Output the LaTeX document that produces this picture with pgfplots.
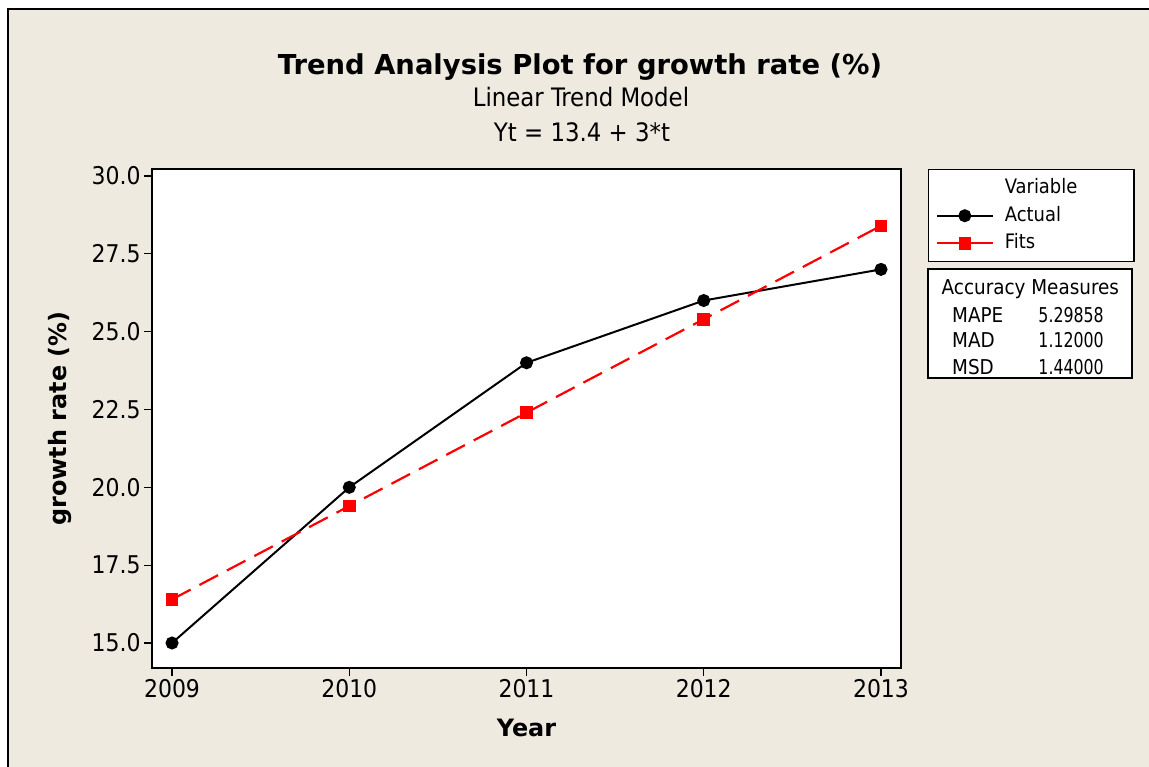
\documentclass[border=0pt]{standalone}
\usepackage{fontspec}
\setmainfont{DejaVu Sans Condensed}
\newfontfamily\widefont{DejaVu Sans}
\usepackage{graphicx}
\usepackage{pgfplots}
\pgfplotsset{compat=1.18}

\definecolor{mtbg}{RGB}{238,234,224}
\definecolor{mtred}{RGB}{255,0,0}

\begin{document}
\begin{tikzpicture}[x=1bp,y=1bp]
\useasboundingbox (0,0) rectangle (1149,767);
\fill[white] (0,0) rectangle (1149,767);
\fill[mtbg] (8,0) rectangle (1149,758);
\draw[line width=1.5bp] (8,0) -- (8,758) -- (1149,758);

% titles
\node[anchor=base, font=\widefont\bfseries\fontsize{27.5}{32}\selectfont] at (580,692) {Trend Analysis Plot for growth rate (\%)};
\node[anchor=base, font=\fontsize{25.5}{30}\selectfont] at (581,660) {Linear Trend Model};
\node[anchor=base, font=\fontsize{25.5}{30}\selectfont] at (582,625) {Yt = 13.4 + 3*t};

\begin{axis}[
  at={(152bp,99bp)}, anchor=south west,
  scale only axis, width=749bp, height=499bp,
  xmin=2008.887, xmax=2013.113, ymin=14.197, ymax=30.225,
  xtick={2009,2010,2011,2012,2013},
  ytick={15,17.5,20,22.5,25,27.5,30},
  xtick pos=lower, ytick pos=left,
  tick align=outside, major tick length=8bp,
  /pgf/number format/assume math mode=true,
  x tick label style={/pgf/number format/.cd, 1000 sep={}},
  y tick label style={/pgf/number format/.cd, fixed, fixed zerofill, precision=1},
  tick label style={font=\fontsize{24.5}{28}\selectfont},
  axis line style={line width=1.6bp},
  tick style={line width=1.3bp, black},
  axis background/.style={fill=white},
  xlabel={Year}, ylabel={growth rate (\%)},
  every axis x label/.style={at={(axis description cs:0.5,-0.1202)}, anchor=center, font=\widefont\bfseries\fontsize{24}{28}\selectfont},
  every axis y label/.style={at={(axis description cs:-0.1228,0.5)}, rotate=90, anchor=center, font=\widefont\bfseries\fontsize{24}{28}\selectfont},
  legend cell align=left,
  legend image code/.code={\draw[mark repeat=2, mark phase=2, #1, solid] plot coordinates {(0bp,0bp) (28bp,0bp) (56bp,0bp)};},
  legend style={at={(axis description cs:1.036,1)}, anchor=north west,
    draw=black, line width=1.5bp, fill=white,
    font=\fontsize{20}{24}\selectfont,
    inner xsep=7bp, inner ysep=6bp, row sep=2.5bp,
    nodes={inner sep=2bp, text height=16bp, text depth=5bp},
    /tikz/every odd column/.style={column sep=9bp}},
]
\addlegendimage{empty legend}
\addlegendentry{\makebox[120bp][l]{Variable}}
\addplot[black, line width=2bp, mark=*, mark size=5.5bp] coordinates {
  (2009,15) (2010,20) (2011,24) (2012,26) (2013,27)};
\addlegendentry{Actual}
\addplot[mtred, line width=2.2bp, dash pattern=on 21bp off 10bp, mark=square*, mark size=5.2bp, mark options={solid}] coordinates {
  (2009,16.4) (2010,19.4) (2011,22.4) (2012,25.4) (2013,28.4)};
\addlegendentry{Fits}
\end{axis}

% accuracy measures box
\draw[line width=1.5bp, fill=white] (928,389) rectangle (1132,498);
\begin{scope}[every node/.style={font=\fontsize{20.5}{24}\selectfont, inner sep=0pt}]
\node[anchor=base west] at (941.5,472) {Accuracy Measures};
\node[anchor=base west] at (952,444.5) {MAPE};
\node[anchor=base west] at (952,419) {MAD};
\node[anchor=base west] at (952,392) {MSD};
\node[anchor=base east] at (1104,444.5) {\scalebox{0.86}[1]{5.29858}};
\node[anchor=base east] at (1104,419) {\scalebox{0.86}[1]{1.12000}};
\node[anchor=base east] at (1104,392) {\scalebox{0.86}[1]{1.44000}};
\end{scope}
\end{tikzpicture}
\end{document}
